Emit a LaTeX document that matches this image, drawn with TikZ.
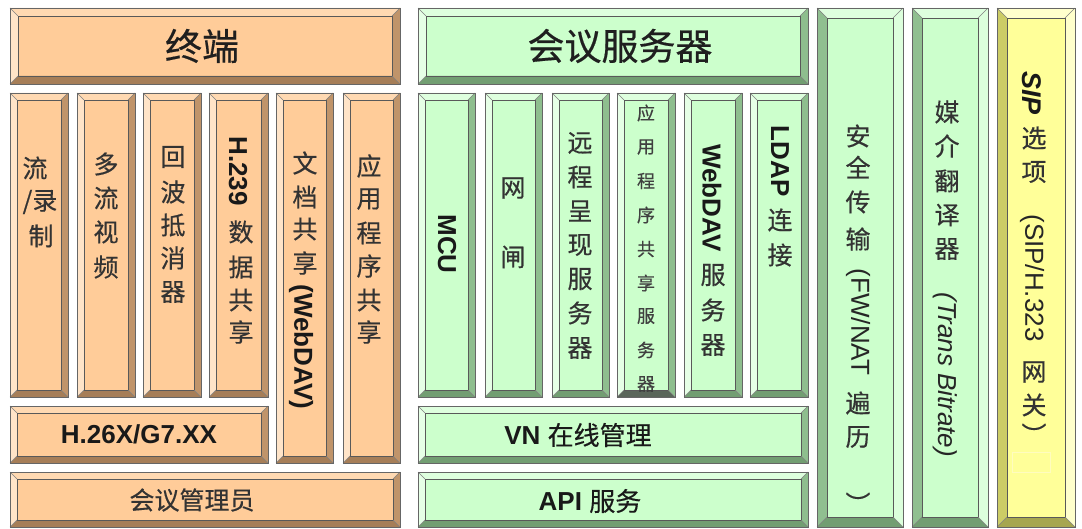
\documentclass[tikz,border=0pt]{standalone}
\usepackage{fontspec}
\setmainfont{Liberation Sans}
\newfontfamily\cjk[FakeBold=0.45]{Noto Sans CJK SC}
\definecolor{orF}{HTML}{FFCC99}
\definecolor{orT}{HTML}{FFD9B2}
\definecolor{orL}{HTML}{FFE4C8}
\definecolor{orR}{HTML}{C0946A}
\definecolor{orB}{HTML}{A67E58}
\definecolor{grF}{HTML}{CCFFCC}
\definecolor{grT}{HTML}{DEFFDE}
\definecolor{grL}{HTML}{E6FFE6}
\definecolor{grR}{HTML}{8EBE8E}
\definecolor{grB}{HTML}{729E72}
\definecolor{gdF}{HTML}{CCFFCC}
\definecolor{gdT}{HTML}{DEFFDE}
\definecolor{gdL}{HTML}{E6FFE6}
\definecolor{gdR}{HTML}{8EBE8E}
\definecolor{gdB}{HTML}{5A665A}
\definecolor{gsF}{HTML}{CCFFCC}
\definecolor{gsT}{HTML}{DEFFDE}
\definecolor{gsL}{HTML}{90BF90}
\definecolor{gsR}{HTML}{DCFFDC}
\definecolor{gsB}{HTML}{729E72}
\definecolor{yeF}{HTML}{FFFF99}
\definecolor{yeT}{HTML}{FFFFCC}
\definecolor{yeL}{HTML}{CCCC66}
\definecolor{yeR}{HTML}{FFFFCC}
\definecolor{yeB}{HTML}{A6A650}
\newcommand\bevelbox[6]{%
 \fill[#6F] (#1,#2) rectangle (#3,#4);
 \fill[#6T] (#1,#2) -- (#3,#2) -- (#3-#5,#2+#5) -- (#1+#5,#2+#5) -- cycle;
 \fill[#6B] (#1,#4) -- (#3,#4) -- (#3-#5,#4-#5) -- (#1+#5,#4-#5) -- cycle;
 \fill[#6L] (#1,#2) -- (#1+#5,#2+#5) -- (#1+#5,#4-#5) -- (#1,#4) -- cycle;
 \fill[#6R] (#3,#2) -- (#3-#5,#2+#5) -- (#3-#5,#4-#5) -- (#3,#4) -- cycle;
 \draw[inline] (#1+#5,#2+#5) rectangle (#3-#5,#4-#5);
 \draw[diag] (#1,#2) -- (#1+#5,#2+#5) (#3,#2) -- (#3-#5,#2+#5)
   (#1,#4) -- (#1+#5,#4-#5) (#3,#4) -- (#3-#5,#4-#5);
 \draw[outline] (#1,#2) rectangle (#3,#4);
}
\tikzset{
 inline/.style={draw=black!65, line width=0.7pt},
 diag/.style={draw=black!50, line width=0.5pt},
 outline/.style={draw=black!60, line width=0.8pt},
 cj/.style={font=\cjk\fontsize{25}{25}\selectfont, inner sep=0pt, text=black!80},
 cjs/.style={font=\cjk\fontsize{18}{18}\selectfont, inner sep=0pt, text=black!75},
 ttl/.style={font=\cjk\fontsize{37}{37}\selectfont, inner sep=0pt, text=black!88},
 lt/.style={font=\fontsize{26}{26}\selectfont\bfseries, inner sep=0pt, text=black!90},
 ltr/.style={font=\fontsize{26}{26}\selectfont, inner sep=0pt, text=black!85},
 vrot/.style={rotate=-90},
}
\begin{document}
\begin{tikzpicture}[x=1pt,y=-1pt]
\useasboundingbox (0,0) rectangle (1082,529);
\fill[white] (0,0) rectangle (1082,529);
% ---- orange column ----
\bevelbox{10}{8}{400}{84}{8}{or}
\bevelbox{10}{93}{68}{397}{7}{or}
\bevelbox{77}{93}{135}{397}{7}{or}
\bevelbox{143}{93}{201}{397}{7}{or}
\bevelbox{209}{93}{268}{397}{7}{or}
\bevelbox{276}{93}{333}{463}{7}{or}
\bevelbox{343}{93}{400}{463}{7}{or}
\bevelbox{10}{406}{268}{463}{7}{or}
\bevelbox{10}{472}{400}{527}{7}{or}
% ---- green column ----
\bevelbox{418}{8}{808}{84}{8}{gr}
\bevelbox{418}{93}{475}{397}{7}{gr}
\bevelbox{485}{93}{542}{397}{7}{gr}
\bevelbox{552}{93}{609}{397}{7}{gr}
\bevelbox{617}{93}{675}{397}{7}{gd}
\bevelbox{684}{93}{742}{397}{7}{gr}
\bevelbox{750}{93}{808}{397}{7}{gr}
\bevelbox{418}{406}{808}{463}{7}{gr}
\bevelbox{418}{472}{808}{527}{7}{gr}
% ---- right columns ----
\bevelbox{817}{8}{903}{527}{10}{gs}
\bevelbox{912}{8}{988}{527}{10}{gs}
\bevelbox{997}{8}{1075}{527}{10}{ye}
\draw[white!75!yellow, line width=0.6pt] (1012,452) rectangle (1050,472);
% ---- titles ----
\node[ttl] (t1) at (202,46) {终端};
\node[ttl] (t2) at (620,46) {会议服务器};
% ---- orange texts ----
\node[cj] (a1) at (35,168) {流};
\node[cj] (a2) at (40,202) {/录};
\node[cj] (a3) at (41,236) {制};
\foreach \c/\y [count=\i] in {多/164,流/198,视/232,频/267}
  \node[cj] (b\i) at (106,\y) {\c};
\foreach \c/\y [count=\i] in {回/157,波/192,抵/225,消/258,器/292}
  \node[cj] (c\i) at (173,\y) {\c};
\node[lt,vrot] (d0) at (238,171) {H.239};
\foreach \c/\y [count=\i] in {数/232,据/267,共/300,享/332}
  \node[cj] (d\i) at (241,\y) {\c};
\foreach \c/\y [count=\i] in {文/163,档/197,共/229,享/263}
  \node[cj] (e\i) at (305,\y) {\c};
\node[lt,vrot] (e0) at (301,347) {(WebDAV)};
\foreach \c/\y [count=\i] in {应/166,用/199,程/233,序/266,共/300,享/332}
  \node[cj] (f\i) at (369,\y) {\c};
\node[lt] (h26) at (139,434) {H.26X/G7.XX};
\node[cj] (adm) at (192,500) {会议管理员};
% ---- green texts ----
\node[lt,vrot] (mcu) at (447,244) {MCU};
\node[cj] (g1) at (513,188) {网};
\node[cj] (g2) at (513,257) {闸};
\foreach \c/\y [count=\i] in {远/143,程/177,呈/211,现/245,服/279,务/313,器/348}
  \node[cj] (h\i) at (580,\y) {\c};
\foreach \c/\y [count=\i] in {应/113,用/147,程/181,序/215,共/249,享/283,服/316,务/350,器/384}
  \node[cjs] (k\i) at (646,\y) {\c};
\node[lt,vrot] (wd) at (712,198) {WebDAV};
\foreach \c/\y [count=\i] in {服/275,务/310,器/345}
  \node[cj] (m\i) at (713,\y) {\c};
\node[lt,vrot] (ldap) at (780,161) {LDAP};
\node[cj] (n1) at (780,220) {连};
\node[cj] (n2) at (780,255) {接};
\node[lt] (vn) at (578,435) {VN {\cjk\mdseries 在线管理}};
\node[lt] (api) at (590,501) {API {\cjk\mdseries 服务}};
% ---- right texts ----
\foreach \c/\y [count=\i] in {安/136,全/167,传/202,输/239}
  \node[cj] (p\i) at (858,\y) {\c};
\node[ltr,vrot] (fw) at (858,322) {(FW/NAT};
\node[cj] (p5) at (858,403) {遍};
\node[cj] (p6) at (858,437) {历};
\node[cj] (p7) at (858,503) {︶};
\foreach \c/\y [count=\i] in {媒/112,介/146,翻/181,译/215,器/249}
  \node[cj] (q\i) at (947,\y) {\c};
\node[ltr,vrot,font=\fontsize{26}{26}\selectfont\itshape] (tb) at (945,375) {(Trans Bitrate)};
\node[lt,vrot,font=\fontsize{27}{27}\selectfont\bfseries\itshape] (sip) at (1032,93) {SIP};
\node[cj] (r1) at (1034,138) {选};
\node[cj] (r2) at (1034,172) {项};
\node[ltr,vrot] (sh) at (1032,278) {(SIP/H.323};
\node[cj] (r3) at (1034,372) {网};
\node[cj] (r4) at (1034,405) {关};
\node[cj] (r5) at (1034,434) {︶};
\end{tikzpicture}
\end{document}
